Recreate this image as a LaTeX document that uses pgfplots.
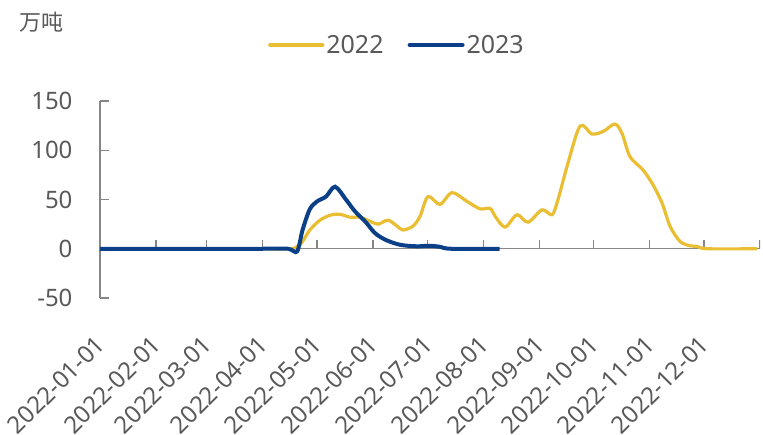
\documentclass[border=0pt]{standalone}
\usepackage{fontspec}
\setmainfont{Noto Sans}
\newfontfamily\cjk{Noto Sans CJK SC}
\usepackage{pgfplots}
\pgfplotsset{compat=1.18}
\definecolor{gold}{RGB}{233,190,50}
\definecolor{navy}{RGB}{11,64,136}
\definecolor{txt}{RGB}{89,89,89}
\definecolor{axg}{RGB}{134,134,134}

\begin{document}
\begin{tikzpicture}
\begin{axis}[name=ax, scale only axis, width=660pt, height=197pt,
 xmin=0, xmax=365, ymin=-50, ymax=150,
 axis y line*=left, axis x line*=bottom,
 x axis line style={draw=none},
 y axis line style={draw=axg, line width=1.3pt},
 ytick={-50,0,50,100,150},
 tick align=inside,
 major tick length=9pt,
 ytick style={draw=axg, line width=1.3pt},
 xtick={0,31,59,90,120,151,181,212,243,273,304,334},
 xticklabels={2022-01-01,2022-02-01,2022-03-01,2022-04-01,2022-05-01,2022-06-01,2022-07-01,2022-08-01,2022-09-01,2022-10-01,2022-11-01,2022-12-01},
 xtick style={draw=none},
 ticklabel style={font=\fontsize{24}{24}\selectfont, text=txt},
 /pgf/number format/assume math mode=true,
 yticklabel style={xshift=-24pt},
 xticklabel style={anchor=east, xshift=3pt, yshift=-40pt, rotate=45},
 legend style={at={(0.45,1.284)}, anchor=center, draw=none, fill=none, legend columns=2,
   font=\fontsize{25}{25}\selectfont, text=txt,
   /tikz/every even column/.append style={column sep=22pt}},
 legend image code/.code={\draw[#1, line cap=round] (0pt,0pt) -- (53pt,0pt);},
]
\draw[axg, line width=1.3pt] (axis cs:0,0) -- (axis cs:365,0);
\pgfplotsinvokeforeach{0,31,59,90,120,151,181,212,243,273,304,334,365}{
  \draw[axg, line width=1.3pt] (axis cs:#1,0) -- ([yshift=9pt]axis cs:#1,0);
}
\addplot[gold, line width=3.2pt, smooth, tension=0.5] coordinates {
(0,0)(30,0)(60,0)(90,0)(105,0)(110.6,4)(116,19)(121.7,29)(127.2,34)(132.7,35)(138.3,32)(143.8,32)(149.3,28)(153.8,25)(159.3,29)(164.3,23)(167.6,19)(173.1,23)(177,33)(181.4,53)(188,45)(194.7,57)(203,48)(210.2,40.5)(215.7,41)(218.5,33)(224,22)(230.6,34.5)(236.7,27)(244.5,39.5)(250,34.5)(253.3,50)(258.8,87)(265.5,124.6)(272.1,116.5)(278.2,119)(284.8,126.6)(288.7,117)(293.1,93.5)(300.3,80)(305.8,65)(310.8,46.6)(315.3,22.6)(320.8,7.4)(326.3,3)(330.2,2.4)(335.8,0)(363.4,0)
};
\addlegendentry{2022}
\addplot[navy, line width=4pt, smooth, tension=0.5] coordinates {
(0,0)(30,0)(60,0)(90,0)(104,0)(109,-2.7)(112,19)(116,40)(120,48)(125,53)(130,63)(136,50)(141,38)(147,27)(152,16)(158,9)(166,4)(175,2.5)(182,3)(188,2)(194,0)(221,0)
};
\addlegendentry{2023}
\end{axis}
\node[anchor=west, text=txt, font=\cjk\fontsize{22}{22}\selectfont] at ([shift={(-84pt,79pt)}]ax.north west) {万吨};
\pgfresetboundingbox
\path ([shift={(-100pt,101pt)}]ax.north west) rectangle ([shift={(663pt,-333pt)}]ax.north west);
\end{tikzpicture}
\end{document}
